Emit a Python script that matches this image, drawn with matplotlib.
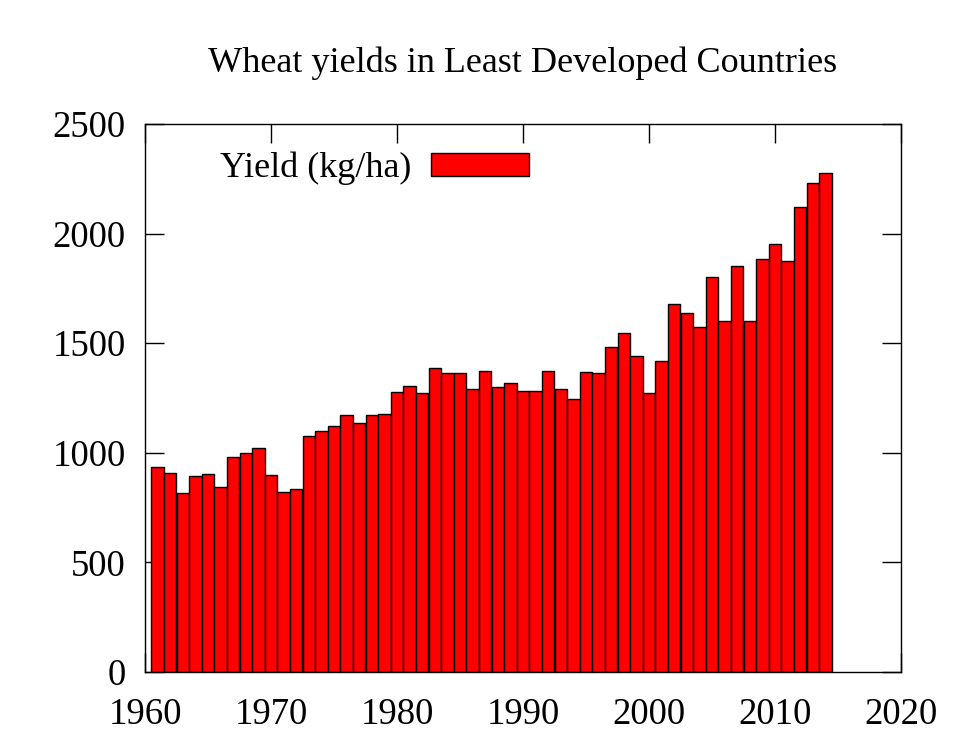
import matplotlib
matplotlib.use("Agg")
import matplotlib.pyplot as plt

years = list(range(1961, 2015))
yields = [937, 909, 815, 893, 902, 844, 982, 1000, 1020, 899,
          820, 833, 1075, 1099, 1121, 1171, 1137, 1174, 1179, 1276,
          1305, 1274, 1385, 1364, 1366, 1290, 1375, 1299, 1318, 1282,
          1283, 1373, 1290, 1244, 1369, 1364, 1481, 1545, 1443, 1271,
          1420, 1679, 1639, 1575, 1801, 1603, 1854, 1601, 1884, 1951,
          1875, 2121, 2231, 2278]
xticks = [1960, 1970, 1980, 1990, 2000, 2010, 2020]
yticks = [0, 500, 1000, 1500, 2000, 2500]

plt.rcParams['font.family'] = ['Liberation Serif', 'DejaVu Serif']

fig = plt.figure(figsize=(9.6, 7.55), dpi=100)
ax = fig.add_axes([145/960, 1-672/755, 756/960, 548/755])

ax.bar(years, yields, width=1.0, color='#ff0000', edgecolor='black',
       linewidth=1.0, label='Yield (kg/ha)', zorder=3)

ax.set_xlim(1960, 2020)
ax.set_ylim(0, 2500)
ax.set_xticks(xticks)
ax.set_yticks(yticks)
ax.tick_params(direction='in', length=14, width=1, labelsize=26.5,
               top=True, right=True)
ax.tick_params(axis='y', pad=14)
ax.tick_params(axis='x', pad=18)
for s in ax.spines.values():
    s.set_linewidth(1.0)
    s.set_zorder(4)

fig.text(523/960, 1-63/755, 'Wheat yields in Least Developed Countries',
         ha='center', va='center', fontsize=26)

leg = ax.legend(loc='center', bbox_to_anchor=(0.3036, 0.919), frameon=False,
                fontsize=26, markerfirst=False, handlelength=2.7,
                handleheight=0.6, handletextpad=0.55, borderpad=0)

fig.savefig('out.png', dpi=100)
